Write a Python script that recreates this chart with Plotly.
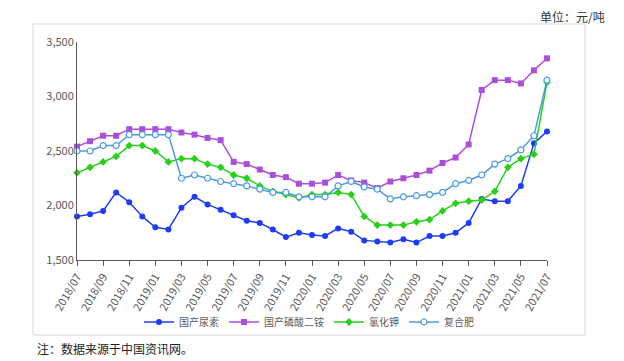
import plotly.graph_objects as go

months = ["2018/07","2018/08","2018/09","2018/10","2018/11","2018/12",
          "2019/01","2019/02","2019/03","2019/04","2019/05","2019/06",
          "2019/07","2019/08","2019/09","2019/10","2019/11","2019/12",
          "2020/01","2020/02","2020/03","2020/04","2020/05","2020/06",
          "2020/07","2020/08","2020/09","2020/10","2020/11","2020/12",
          "2021/01","2021/02","2021/03","2021/04","2021/05","2021/06","2021/07"]

urea = [1900,1920,1950,2120,2030,1900,1800,1780,1980,2080,2010,1960,
        1910,1860,1840,1780,1710,1750,1730,1720,1790,1760,1680,1670,
        1660,1690,1660,1720,1720,1750,1840,2060,2040,2040,2180,2570,2680]
map_ = [2540,2590,2640,2640,2700,2700,2700,2700,2670,2650,2620,2600,
        2400,2380,2330,2280,2260,2200,2200,2210,2280,2230,2210,2160,
        2220,2250,2280,2320,2390,2440,2560,3060,3150,3150,3120,3240,3350]
kcl = [2300,2350,2400,2450,2550,2550,2500,2400,2430,2430,2380,2350,
       2280,2250,2180,2130,2100,2070,2100,2100,2120,2100,1900,1820,
       1820,1820,1850,1870,1950,2020,2040,2050,2130,2350,2430,2470,3130]
compound = [2500,2500,2550,2550,2650,2650,2650,2650,2250,2280,2250,2220,
            2200,2180,2150,2120,2120,2080,2080,2080,2180,2220,2170,2150,
            2060,2080,2090,2100,2120,2200,2230,2280,2380,2430,2510,2640,3150]

series_names = ["国产尿素", "国产磷酸二铵", "氯化钾", "复合肥"]
tick_months = months[::2]

FONT = "Noto Sans CJK SC, sans-serif"

# page body has an 8px default margin; figure sized/offset to compensate
W, H = 616, 353
PL, PR, PT, PB = 69, 539, 34, 252   # plot area in figure pixels
pw, ph = PR - PL, PB - PT

def px(x):
    return (x - 8 - PL) / pw

def py(y):
    return (PB - (y - 8)) / ph

fig = go.Figure()
fig.add_trace(go.Scatter(x=months, y=urea, name=series_names[0], mode="lines+markers",
                         line=dict(color="#1f3cf5", width=1.5),
                         marker=dict(symbol="circle", size=6, color="#1f3cf5"),
                         cliponaxis=False))
fig.add_trace(go.Scatter(x=months, y=map_, name=series_names[1], mode="lines+markers",
                         line=dict(color="#a94fdc", width=1.5),
                         marker=dict(symbol="square", size=6, color="#a94fdc"),
                         cliponaxis=False))
fig.add_trace(go.Scatter(x=months, y=kcl, name=series_names[2], mode="lines+markers",
                         line=dict(color="#27d11a", width=1.5),
                         marker=dict(symbol="diamond", size=6, color="#27d11a"),
                         cliponaxis=False))
fig.add_trace(go.Scatter(x=months, y=compound, name=series_names[3], mode="lines+markers",
                         line=dict(color="#4a9be0", width=1.5),
                         marker=dict(symbol="circle", size=6, color="white",
                                     line=dict(color="#4a9be0", width=1.2)),
                         cliponaxis=False))

fig.update_layout(
    width=W, height=H,
    margin=dict(l=PL, r=W - PR, t=PT, b=H - PB, autoexpand=False),
    paper_bgcolor="white", plot_bgcolor="white",
    font=dict(family=FONT, size=11, color="#595959"),
    showlegend=True,
    legend=dict(orientation="h", x=px(309), xanchor="center", y=py(322), yanchor="middle",
                font=dict(size=10, color="#595959"), itemwidth=30,
                bgcolor="rgba(0,0,0,0)"),
    xaxis=dict(type="category", range=[0, 36], showgrid=False, zeroline=False,
               showline=True, linecolor="#595959", linewidth=1,
               tickmode="array", tickvals=tick_months, ticktext=tick_months,
               ticks="outside", ticklen=5, tickcolor="#595959", automargin=False,
               tickangle=-60, tickfont=dict(size=11, color="#595959")),
    yaxis=dict(range=[1500, 3500], showgrid=False, zeroline=False,
               showline=True, linecolor="#595959", linewidth=1, automargin=False,
               tickvals=[1500, 2000, 2500, 3000, 3500], tickformat=",d",
               ticks="", tickfont=dict(size=11, color="#595959")),
    shapes=[dict(type="rect", xref="paper", yref="paper",
                 x0=px(33), x1=px(585), y0=py(335), y1=py(24),
                 line=dict(color="#d9d9d9", width=1), fillcolor="rgba(0,0,0,0)",
                 layer="below")],
    annotations=[
        dict(text="单位：元/吨", xref="paper", yref="paper",
             x=px(607), y=py(16), xanchor="right", yanchor="middle",
             showarrow=False, font=dict(family=FONT, size=12, color="#333333")),
        dict(text="注：数据来源于中国资讯网。", xref="paper", yref="paper",
             x=px(35), y=py(348), xanchor="left", yanchor="middle",
             showarrow=False, font=dict(family=FONT, size=12, color="#222222")),
    ],
)

fig.write_html("out.html")
